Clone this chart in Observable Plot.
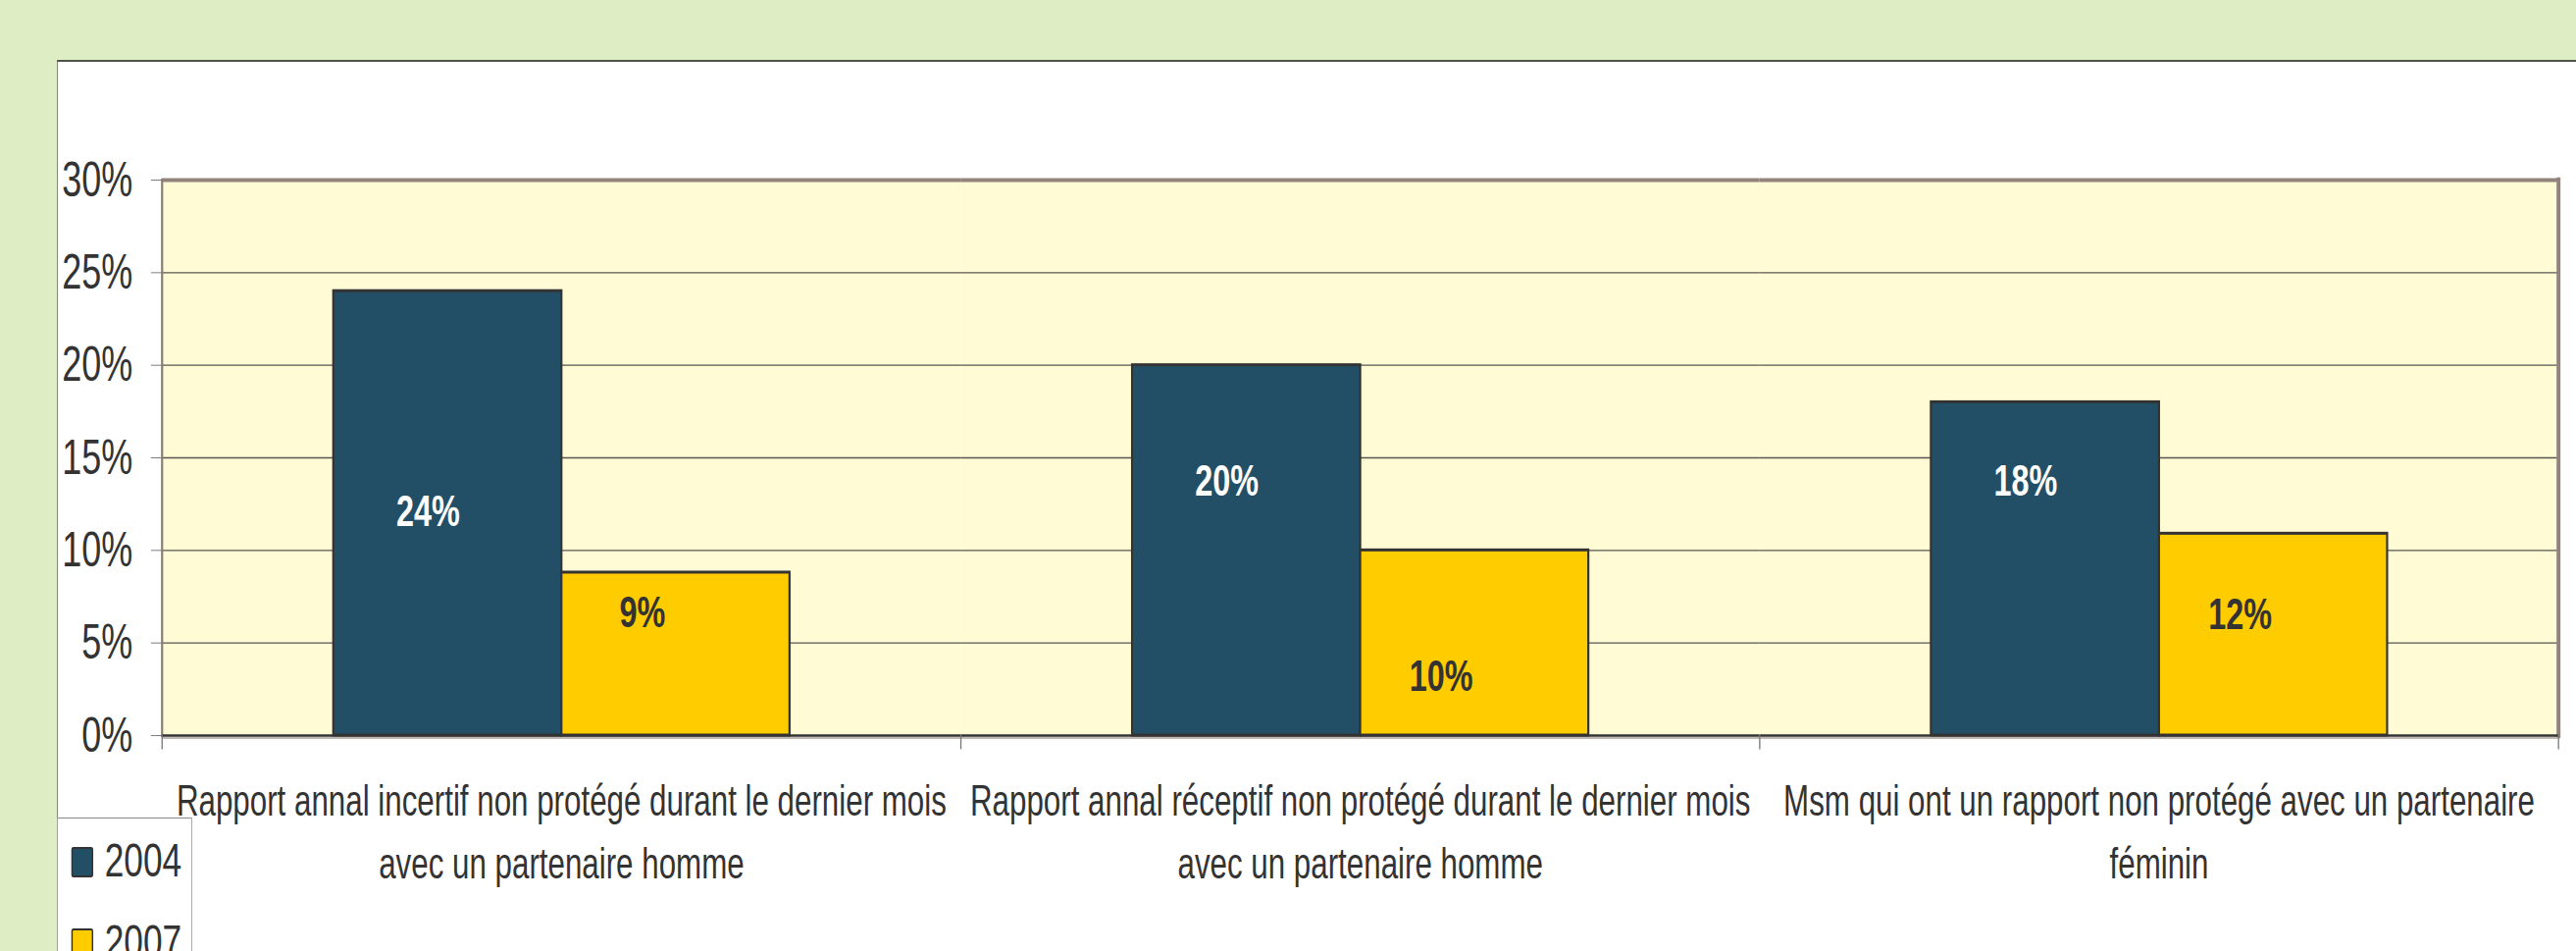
<!DOCTYPE html>
<html>
<head>
<meta charset="utf-8">
<script src="https://cdn.jsdelivr.net/npm/d3@7"></script>
<script src="https://cdn.jsdelivr.net/npm/@observablehq/plot@0.6"></script>
<style>
  html, body { margin: 0; padding: 0; overflow: hidden; background: #DEEDC4; width: 2626px; height: 969px; }
  #stage { position: absolute; left: 0; top: 0; height: 969px; transform-origin: 0 0; font-family: 'Liberation Sans', Arial, sans-serif; }
  #panel { position: absolute; background: #ffffff; border-top: 2.5px solid #50554c; border-left: 1.5px solid #50554c; box-sizing: border-box; }
  #chart { position: absolute; left: 0; top: 0; }
  #legend { position: absolute; background: #ffffff; border: 1.5px solid #8a8a8a; box-sizing: border-box; }
  .sw { position: absolute; box-sizing: border-box; border: 2.5px solid #333; border-radius: 3px; height: 31px; }
  .lt { position: absolute; font-size: 49px; line-height: 1; color: #333; white-space: nowrap; }
</style>
</head>
<body>
<div id="stage">
  <div id="panel"></div>
  <div id="chart"></div>
  <div id="legend"></div>
</div>
<script>
// ---------- data ----------
const categories = [
  "Rapport annal incertif non protégé durant le dernier mois avec un partenaire homme",
  "Rapport annal réceptif non protégé durant le dernier mois avec un partenaire homme",
  "Msm qui ont un rapport non protégé avec un partenaire féminin"
];
const categoryTickLabels = [
  "Rapport annal incertif non protégé durant le dernier mois\navec un partenaire homme",
  "Rapport annal réceptif non protégé durant le dernier mois\navec un partenaire homme",
  "Msm qui ont un rapport non protégé avec un partenaire\nféminin"
];
const years = ["2004", "2007"];
const values2004 = [0.24, 0.20, 0.18];
const values2007 = [0.088, 0.10, 0.109];
const labels2004 = ["24%", "20%", "18%"];
const labels2007 = ["9%", "10%", "12%"];
const labelAt2004 = [0.121, 0.137, 0.137];
const labelAt2007 = [0.066, 0.032, 0.065];
const yTicks = [0, 0.05, 0.10, 0.15, 0.20, 0.25, 0.30];
const gridTicks = [0.05, 0.10, 0.15, 0.20, 0.25];
const colors = ["#234F66", "#FFCC00"];

// ---------- layout (the reference is horizontally condensed) ----------
const r = 0.72;
const L = 2626 / r;
const H = 969;
const mTop = 183, mBottom = 220, mLeft = 165 / r, mRight = 18 / r;
const plotH = H - mTop - mBottom;

const stage = document.getElementById("stage");
stage.style.width = L + "px";
stage.style.transform = `scaleX(${r})`;

const panel = document.getElementById("panel");
panel.style.left = (58 / r) + "px";
panel.style.top = "61px";
panel.style.width = (L - 58 / r + 10) + "px";
panel.style.height = (H - 61 + 20) + "px";

const rows = categories.flatMap((c, i) => [
  {cat: c, year: years[0], value: values2004[i], label: labels2004[i], at: labelAt2004[i]},
  {cat: c, year: years[1], value: values2007[i], label: labels2007[i], at: labelAt2007[i]}
]);

const chart = Plot.plot({
  width: L,
  height: H,
  marginTop: mTop,
  marginBottom: mBottom,
  marginLeft: mLeft,
  marginRight: mRight,
  style: {background: "transparent", fontFamily: "'Liberation Sans', Arial, sans-serif", overflow: "visible", maxWidth: "none"},
  fx: {domain: categories, padding: 0, label: null},
  x: {domain: years, paddingInner: 0, paddingOuter: 0.75, axis: null},
  y: {domain: [0, 0.3], label: null},
  color: {domain: years, range: colors},
  marks: [
    Plot.frame({fill: "#FFFBD5", stroke: null}),
    Plot.gridY(gridTicks, {stroke: "#444", strokeOpacity: 0.9, strokeWidth: 1.3}),
    Plot.ruleY([0.3], {stroke: "#92847C", strokeWidth: 4}),
    Plot.frame({anchor: "left", facetAnchor: "left", stroke: "#8a7d76", strokeWidth: 2.2 / r}),
    Plot.frame({anchor: "right", facetAnchor: "right", stroke: "#92847C", strokeWidth: 4 / r}),
    Plot.barY(rows, {fx: "cat", x: "year", y: "value", fill: "year", stroke: "#333", strokeWidth: 3}),
    Plot.ruleY([0], {stroke: "#c2bbb5", strokeWidth: 2, dy: 2.5}),
    Plot.ruleY([0], {stroke: "#333", strokeWidth: 2.5}),
    Plot.frame({anchor: "left", insetTop: plotH, insetBottom: -13, stroke: "#777", strokeWidth: 1.3 / r}),
    Plot.frame({anchor: "right", facetAnchor: "right", insetTop: plotH, insetBottom: -13, stroke: "#777", strokeWidth: 1.3 / r}),
    Plot.text(rows.filter(d => d.year === years[0]), {fx: "cat", x: "year", y: "at", text: "label", fill: "white", fontWeight: "bold", fontSize: 45, dx: -20 / r}),
    Plot.text(rows.filter(d => d.year === years[1]), {fx: "cat", x: "year", y: "at", text: "label", fill: "#333", fontWeight: "bold", fontSize: 45, dx: -34 / r}),
    Plot.axisY({ticks: yTicks, tickFormat: d3.format(".0%"), tickSize: 11 / r, tickPadding: 19 / r, fontSize: 50, fill: "#333", stroke: "#666", label: null}),
    Plot.axisFx({anchor: "bottom", tickSize: 0, tickPadding: 36, fontSize: 43.5, lineHeight: 1.47, fill: "#333", label: null,
      tickFormat: d => categoryTickLabels[categories.indexOf(d)]})
  ]
});
document.getElementById("chart").appendChild(chart);

// ---------- legend ----------
const legend = document.getElementById("legend");
legend.style.left = (58 / r) + "px";
legend.style.top = "833px";
legend.style.width = (138 / r) + "px";
legend.style.height = "200px";
years.forEach((y, i) => {
  const sw = document.createElement("div");
  sw.className = "sw";
  sw.style.left = (14 / r) + "px";
  sw.style.top = (29 + 83 * i) + "px";
  sw.style.width = (22 / r) + "px";
  sw.style.background = colors[i];
  legend.appendChild(sw);
  const t = document.createElement("div");
  t.className = "lt";
  t.style.left = (48 / r) + "px";
  t.style.top = (17.5 + 83 * i) + "px";
  t.textContent = y;
  legend.appendChild(t);
});
</script>
</body>
</html>
